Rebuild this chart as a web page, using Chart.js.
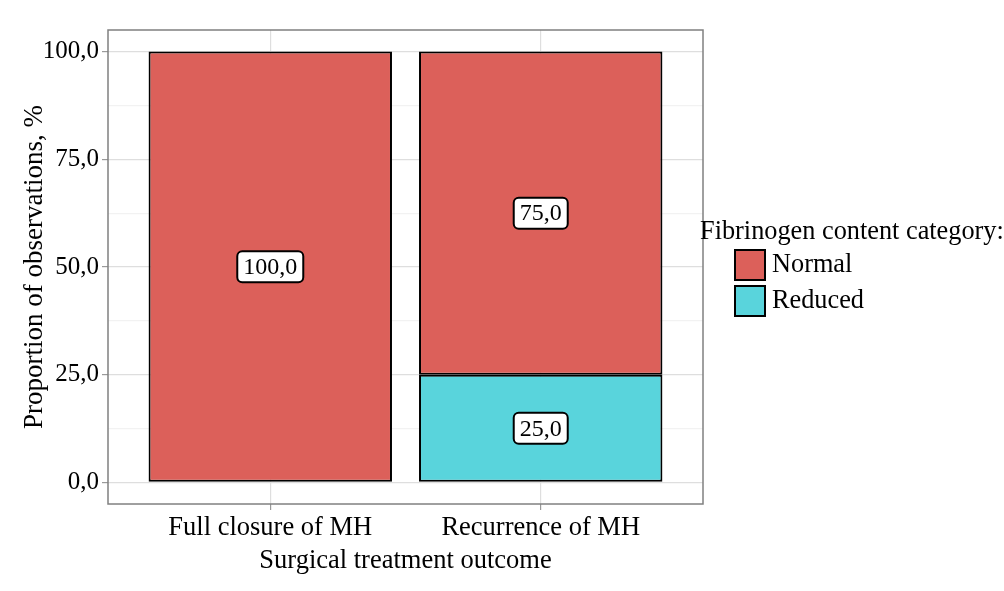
<!DOCTYPE html>
<html lang="en">
<head>
    <meta charset="UTF-8">
    <title>Fibrinogen content by surgical outcome</title>
    <script src="https://cdn.jsdelivr.net/npm/chart.js"></script>
    <style>
        body { margin: 0; background: #ffffff; }
        canvas { display: block; }
    </style>
</head>
<body>
    <canvas id="outcomeChart" width="1004" height="591"></canvas>

    <script>
        // chart data
        const categories = ['Full closure of MH', 'Recurrence of MH'];
        const normalPct = [100.0, 75.0];
        const reducedPct = [0.0, 25.0];
        const yMajorTicks = [0, 25, 50, 75, 100];
        const yMinorTicks = [12.5, 37.5, 62.5, 87.5];
        const legendTitle = 'Fibrinogen content category:';

        const FONT = "'Liberation Serif', 'Times New Roman', serif";
        const RED = '#dc605a';
        const CYAN = '#59d4dc';

        function fmt(v) {
            return v.toFixed(1).replace('.', ',');
        }

        // x positions 1..n on a linear axis, skip empty segments
        function toPoints(values) {
            const pts = [];
            values.forEach((v, i) => {
                if (v > 0) pts.push({ x: i + 1, y: v });
            });
            return pts;
        }

        const panelBorder = {
            id: 'panelBorder',
            afterDraw(chart) {
                const { ctx, chartArea: a } = chart;
                ctx.save();
                ctx.strokeStyle = '#808080';
                ctx.lineWidth = 1.5;
                ctx.strokeRect(a.left, a.top, a.right - a.left, a.bottom - a.top);
                ctx.restore();
            }
        };

        const segmentLabels = {
            id: 'segmentLabels',
            afterDatasetsDraw(chart) {
                const ctx = chart.ctx;
                ctx.save();
                ctx.font = '24px ' + FONT;
                ctx.textAlign = 'center';
                ctx.textBaseline = 'middle';
                chart.data.datasets.forEach((ds, di) => {
                    const meta = chart.getDatasetMeta(di);
                    meta.data.forEach((bar, i) => {
                        const text = fmt(ds.data[i].y);
                        const cx = bar.x;
                        const cy = (bar.y + bar.base) / 2;
                        const w = ctx.measureText(text).width + 12;
                        const h = 31;
                        ctx.beginPath();
                        ctx.roundRect(cx - w / 2, cy - h / 2, w, h, 5);
                        ctx.fillStyle = '#ffffff';
                        ctx.fill();
                        ctx.lineWidth = 2;
                        ctx.strokeStyle = '#000000';
                        ctx.stroke();
                        ctx.fillStyle = '#000000';
                        ctx.fillText(text, cx, cy + 1);
                    });
                });
                ctx.restore();
            }
        };

        const sideLegend = {
            id: 'sideLegend',
            afterDraw(chart) {
                const ctx = chart.ctx;
                const x0 = chart.chartArea.right - 3;
                ctx.save();
                ctx.font = '26.3px ' + FONT;
                ctx.textAlign = 'left';
                ctx.textBaseline = 'middle';
                ctx.fillStyle = '#000000';
                ctx.fillText(legendTitle, x0, 232);
                // legend lists top stack first
                const items = chart.data.datasets.slice().reverse();
                items.forEach((ds, i) => {
                    const y = 250 + i * 36;
                    ctx.fillStyle = ds.backgroundColor;
                    ctx.fillRect(x0 + 35, y, 30, 30);
                    ctx.lineWidth = 2;
                    ctx.strokeStyle = '#000000';
                    ctx.strokeRect(x0 + 35, y, 30, 30);
                    ctx.fillStyle = '#000000';
                    ctx.fillText(ds.label, x0 + 72, y + 15);
                });
                ctx.restore();
            }
        };

        const ctx = document.getElementById('outcomeChart').getContext('2d');
        new Chart(ctx, {
            type: 'bar',
            data: {
                datasets: [{
                    label: 'Reduced',
                    data: toPoints(reducedPct),
                    backgroundColor: CYAN,
                    borderColor: '#000000',
                    borderWidth: 2,
                    borderSkipped: false
                }, {
                    label: 'Normal',
                    data: toPoints(normalPct),
                    backgroundColor: RED,
                    borderColor: '#000000',
                    borderWidth: 2,
                    borderSkipped: false
                }]
            },
            options: {
                responsive: false,
                animation: false,
                categoryPercentage: 1.0,
                barPercentage: 0.9,
                layout: { padding: { left: 0, top: 30, right: 301, bottom: 0 } },
                plugins: {
                    legend: { display: false },
                    tooltip: { enabled: false }
                },
                scales: {
                    x: {
                        type: 'linear',
                        stacked: true,
                        offset: false,
                        min: 0.4,
                        max: categories.length + 0.6,
                        afterBuildTicks: scale => {
                            scale.ticks = categories.map((c, i) => ({ value: i + 1 }));
                        },
                        afterFit: scale => { scale.height = 87; },
                        grid: {
                            offset: false,
                            color: '#dedede',
                            lineWidth: 1.2,
                            tickLength: 6,
                            tickColor: '#9a9a9a'
                        },
                        border: { display: false },
                        ticks: {
                            font: { family: FONT, size: 26.5 },
                            color: '#000000',
                            padding: 2,
                            maxRotation: 0,
                            callback: value => categories[Math.round(value) - 1] || ''
                        },
                        title: {
                            display: true,
                            text: 'Surgical treatment outcome',
                            font: { family: FONT, size: 26.5 },
                            color: '#000000',
                            padding: { top: 0, bottom: 14 }
                        }
                    },
                    y: {
                        stacked: true,
                        min: -5,
                        max: 105,
                        afterBuildTicks: scale => {
                            scale.ticks = yMajorTicks.concat(yMinorTicks)
                                .sort((a, b) => a - b)
                                .map(v => ({ value: v }));
                        },
                        afterFit: scale => { scale.width = 108; },
                        grid: {
                            color: c => yMajorTicks.includes(c.tick.value) ? '#dedede' : '#f2f2f2',
                            lineWidth: 1.2,
                            tickLength: 6,
                            tickColor: c => yMajorTicks.includes(c.tick.value) ? '#9a9a9a' : 'rgba(0,0,0,0)'
                        },
                        border: { display: false },
                        ticks: {
                            font: { family: FONT, size: 25 },
                            color: '#000000',
                            padding: 3,
                            callback: value => yMajorTicks.includes(value) ? fmt(value) : ''
                        },
                        title: {
                            display: true,
                            text: 'Proportion of observations, %',
                            font: { family: FONT, size: 27 },
                            color: '#000000',
                            padding: { top: 19, bottom: 0 }
                        }
                    }
                }
            },
            plugins: [panelBorder, segmentLabels, sideLegend]
        });
    </script>
</body>
</html>
